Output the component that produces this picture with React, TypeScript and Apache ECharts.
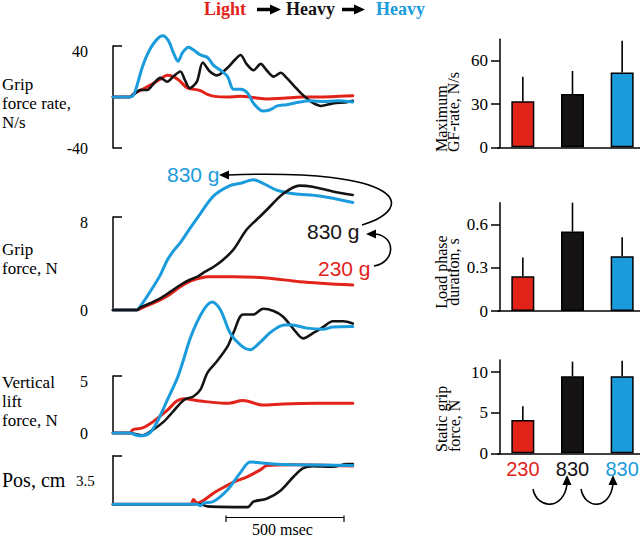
import React, { useEffect, useRef } from "react";
import * as echarts from "echarts";

const RED = "#E2231A";
const BLACK = "#151313";
const BLUE = "#1A9BDC";
const SERIF = "Liberation Serif";
const SANS = "Liberation Sans";

// ---- time-course traces: [time ms, value] ----
const gfRateLight: [number, number][] = [[0,0],[70,0],[90,3],[125,6],[160,9.5],[200,14],[230,17],[255,16],[280,13],[315,7],[345,6],[370,5],[400,2],[430,0.5],[480,0],[540,0.5],[600,-0.5],[650,-1.5],[720,-1],[800,0],[880,0],[960,0.5],[1015,1]];
const gfRateHeavy1: [number, number][] = [[0,0],[70,0],[95,3],[115,5.5],[145,5.5],[170,10],[200,15],[230,12],[255,16],[285,20],[305,13],[325,7],[355,12],[380,27],[410,20],[440,17],[485,23],[515,29],[540,33],[565,26],[595,21],[625,26],[650,21],[680,16],[710,19],[735,15],[765,9],[795,3],[820,-1],[850,-5],[880,-7],[930,-5],[990,-4],[1015,-3]];
const gfRateHeavy2: [number, number][] = [[0,0],[70,0],[85,1],[100,8],[125,24],[155,37],[185,45],[210,48],[235,44],[255,35],[275,28],[295,35],[320,39],[340,37],[370,33],[400,31],[425,25],[455,21],[485,16],[510,6],[540,6],[570,3],[595,-5],[635,-11],[665,-10],[695,-7],[735,-6],[790,-4],[835,-3],[890,-3.5],[950,-3],[1015,-4]];

const gripLight: [number, number][] = [[0,0],[100,0],[115,0.1],[160,0.5],[200,0.86],[245,1.4],[285,2.0],[330,2.5],[370,2.75],[400,2.87],[510,2.87],[650,2.75],[790,2.44],[1015,2.15]];
const gripHeavy1: [number, number][] = [[0,0],[100,0],[115,0.2],[160,0.6],[200,1],[245,1.6],[285,2.15],[325,2.6],[360,2.9],[390,3.3],[425,3.7],[465,4.3],[510,5.2],[565,6.9],[620,8.0],[650,8.6],[720,10],[790,10.7],[845,10.6],[930,10.2],[1015,9.9]];
const gripHeavy2: [number, number][] = [[0,0],[100,0],[115,0.3],[155,1.5],[200,3],[230,4.3],[260,5.2],[285,5.8],[325,7],[370,8.3],[425,9.8],[495,10.7],[540,10.9],[595,11.2],[635,10.9],[695,10.3],[765,10],[875,9.8],[1015,9.25]];

const liftLight: [number, number][] = [[0,0],[70,0],[85,0.3],[125,0.45],[170,1.0],[230,2.0],[270,2.8],[300,3.0],[370,2.8],[485,2.6],[550,2.85],[635,2.45],[720,2.55],[865,2.6],[1015,2.6]];
const liftHeavy1: [number, number][] = [[0,0],[70,0],[125,-0.2],[170,0.3],[215,1.0],[255,1.9],[300,2.9],[340,3.2],[370,3.8],[400,5.3],[440,6.3],[485,7.6],[510,8.8],[550,10.4],[595,10.4],[635,10.9],[680,10.7],[720,10.2],[765,9.1],[805,8.3],[850,8.8],[890,9.3],[930,9.8],[975,9.8],[1015,9.6]];
const liftHeavy2: [number, number][] = [[0,0],[70,0],[100,-0.2],[115,-0.25],[155,0],[185,0.9],[230,2.9],[270,4.7],[295,6.2],[325,8.2],[355,9.7],[390,11],[420,11.5],[455,10.8],[495,8.8],[540,7.7],[580,7.3],[620,7.9],[665,8.8],[710,9.4],[750,9.5],[820,9.2],[890,9.1],[930,9.3],[1015,9.35]];

const posLight: [number, number][] = [[0,0],[330,0],[340,0.35],[355,0.1],[380,0.25],[425,0.8],[455,1.1],[510,1.6],[570,2.0],[625,2.5],[652,2.8],[765,2.85],[1015,2.76]];
const posHeavy1: [number, number][] = [[0,0],[370,0],[400,-0.15],[570,-0.2],[595,0.2],[650,0.4],[710,1.0],[765,2.0],[805,2.6],[845,2.75],[930,2.7],[990,2.9],[1015,2.9]];
const posHeavy2: [number, number][] = [[0,0],[355,0],[370,-0.1],[385,0.1],[425,0.2],[485,1.05],[540,2.3],[580,3.05],[620,3.0],[680,2.9],[765,2.85],[1015,2.8]];

// ---- bar summaries ----
const barCategories = ["230", "830", "830"];
const barColors = [RED, BLACK, BLUE];
const maxGfRate = [32, 37, 52];
const maxGfRateErr = [49, 53, 74];
const loadPhase = [0.24, 0.55, 0.38];
const loadPhaseErr = [0.37, 0.75, 0.51];
const staticGrip = [4.1, 9.5, 9.5];
const staticGripErr = [5.8, 11.3, 11.4];

const T_MAX = 1020;

function lineSeries(data: [number, number][], color: string, gi: number, width = 3) {
  return {
    type: "line", xAxisIndex: gi, yAxisIndex: gi, data,
    showSymbol: false, symbol: "none", clip: false, smooth: 0.3, silent: true,
    lineStyle: { color, width, cap: "round", join: "round" },
    itemStyle: { color },
  };
}

function panelY(gi: number, min: number, max: number, labels: number[] | null) {
  const font = { fontFamily: SERIF, fontSize: 16, color: "#000" };
  return {
    type: "value", gridIndex: gi, min, max, position: "left", offset: 16,
    splitLine: { show: false },
    axisLine: { show: true, lineStyle: { color: "#000", width: 1.5 } },
    axisTick: { show: true, inside: true, length: 9, customValues: [min, max], lineStyle: { color: "#000", width: 1.5 } },
    axisLabel: labels
      ? {
          show: true, customValues: labels, margin: 9, ...font,
          formatter: (v: number) => (v === max ? `{t|${v}}` : `{n|${v}}`),
          rich: { t: { ...font, padding: [11, 0, 0, 0] }, n: { ...font } },
        }
      : { show: false },
  };
}

function barY(gi: number, max: number, ticks: number[]) {
  return {
    type: "value", gridIndex: gi, min: 0, max, position: "left", offset: -2,
    splitLine: { show: false },
    axisLine: { show: true, lineStyle: { color: "#000", width: 1.5 } },
    axisTick: { show: true, inside: false, length: 9, customValues: ticks, lineStyle: { color: "#000", width: 1.5 } },
    axisLabel: { show: true, customValues: ticks, margin: 12, fontFamily: SERIF, fontSize: 17, color: "#000" },
  };
}

function barX(gi: number, showLabels: boolean) {
  return {
    type: "category", gridIndex: gi, data: barCategories,
    axisLine: { show: true, lineStyle: { color: "#000", width: 1.5 } },
    axisTick: { show: false },
    axisLabel: showLabels
      ? {
          show: true, interval: 0, hideOverlap: false, margin: 6, fontFamily: SANS, fontSize: 20,
          formatter: (v: string, i: number) => `{c${i}|${v}}`,
          rich: {
            c0: { color: RED, fontFamily: SANS, fontSize: 20 },
            c1: { color: BLACK, fontFamily: SANS, fontSize: 20 },
            c2: { color: BLUE, fontFamily: SANS, fontSize: 20 },
          },
        }
      : { show: false },
  };
}

function barSeries(gi: number, vals: number[], errs: number[]) {
  return [
    {
      type: "bar", xAxisIndex: gi, yAxisIndex: gi, barWidth: 23, silent: true,
      data: vals.map((v, i) => ({ value: v, itemStyle: { color: barColors[i], borderColor: "#000", borderWidth: 1.5 } })),
    },
    {
      type: "custom", xAxisIndex: gi, yAxisIndex: gi, silent: true, z: 3,
      data: vals.map((v, i) => [i, v, errs[i]]),
      renderItem: (_p: any, api: any) => {
        const a = api.coord([api.value(0), api.value(1)]);
        const b = api.coord([api.value(0), api.value(2)]);
        return { type: "line", shape: { x1: a[0], y1: a[1], x2: b[0], y2: b[1] }, style: { stroke: "#000", lineWidth: 1.6 } };
      },
    },
  ];
}

function txt(text: string, x: number, y: number, opts: any = {}) {
  return {
    type: "text", x, y, rotation: opts.rotation || 0, silent: true,
    style: {
      text, fill: opts.color || "#000", fontFamily: opts.family || SERIF,
      fontSize: opts.size || 19, fontWeight: opts.weight || "normal",
      lineHeight: opts.lineHeight,
      align: opts.align || "left", verticalAlign: opts.valign || "middle",
      textAlign: opts.align || "left", textVerticalAlign: opts.valign || "middle",
    },
  };
}

function arrowHead(tipX: number, tipY: number, dir: "left" | "up" | "right", size = 5, len = 9) {
  let pts: number[][];
  if (dir === "left") pts = [[tipX, tipY], [tipX + len, tipY - size], [tipX + len, tipY + size]];
  else if (dir === "right") pts = [[tipX, tipY], [tipX - len, tipY - size], [tipX - len, tipY + size]];
  else pts = [[tipX, tipY], [tipX - size, tipY + len], [tipX + size, tipY + len]];
  return { type: "polygon", silent: true, shape: { points: pts }, style: { fill: "#000" } };
}

function curve(x1: number, y1: number, c1x: number, c1y: number, c2x: number, c2y: number, x2: number, y2: number) {
  return {
    type: "bezierCurve", silent: true,
    shape: { x1, y1, cpx1: c1x, cpy1: c1y, cpx2: c2x, cpy2: c2y, x2, y2 },
    style: { stroke: "#000", lineWidth: 1.6, fill: "none" },
  };
}

function line(x1: number, y1: number, x2: number, y2: number, w = 1.2) {
  return { type: "line", silent: true, shape: { x1, y1, x2, y2 }, style: { stroke: "#000", lineWidth: w } };
}

export default function App() {
  const ref = useRef<HTMLDivElement>(null);
  useEffect(() => {
    if (!ref.current) return;
    const chart = echarts.init(ref.current, null, { renderer: "svg" });
    const lg = (top: number, height: number) => ({ left: 113, top, width: 241, height, outerBoundsMode: "none", containLabel: false });
    const bg = (top: number, height: number) => ({ left: 498, top, width: 149, height, outerBoundsMode: "none", containLabel: false });
    const option: any = {
      animation: false,
      backgroundColor: "#fff",
      grid: [lg(46, 102), lg(217, 93), lg(376, 57), lg(455.7, 48.6), bg(39.3, 108), bg(202.7, 108.3), bg(360, 93.3)],
      xAxis: [
        ...[0, 1, 2, 3].map((gi) => ({ type: "value", gridIndex: gi, min: 0, max: T_MAX, show: false })),
        barX(4, false), barX(5, false), barX(6, true),
      ],
      yAxis: [
        panelY(0, -40, 40, [-40, 40]),
        panelY(1, 0, 8, [0, 8]),
        panelY(2, 0, 5, [0, 5]),
        panelY(3, 0, 3.5, null),
        barY(4, 75, [0, 30, 60]),
        barY(5, 0.75, [0, 0.3, 0.6]),
        barY(6, 11.5, [0, 5, 10]),
      ],
      series: [
        lineSeries(gfRateLight, RED, 0), lineSeries(gfRateHeavy1, BLACK, 0, 2.6), lineSeries(gfRateHeavy2, BLUE, 0),
        lineSeries(gripLight, RED, 1), lineSeries(gripHeavy2, BLUE, 1), lineSeries(gripHeavy1, BLACK, 1, 2.6),
        lineSeries(liftLight, RED, 2), lineSeries(liftHeavy1, BLACK, 2, 2.6), lineSeries(liftHeavy2, BLUE, 2),
        lineSeries(posLight, RED, 3), lineSeries(posHeavy1, BLACK, 3, 2.6), lineSeries(posHeavy2, BLUE, 3),
        ...barSeries(4, maxGfRate, maxGfRateErr),
        ...barSeries(5, loadPhase, loadPhaseErr),
        ...barSeries(6, staticGrip, staticGripErr),
      ],
      graphic: {
        elements: [
          // title
          txt("Light", 204, 8.5, { color: RED, size: 18, weight: "bold" }),
          line(257, 9.5, 272, 9.5, 3.5), arrowHead(281, 9.5, "right", 5, 11),
          txt("Heavy", 286, 8.5, { color: BLACK, size: 18, weight: "bold" }),
          line(342, 9.5, 356, 9.5, 3.5), arrowHead(365, 9.5, "right", 5, 11),
          txt("Heavy", 376, 8.5, { color: BLUE, size: 18, weight: "bold" }),
          // left panel labels
          txt("Grip\nforce rate,\nN/s", 2, 103, { size: 17, lineHeight: 19 }),
          txt("Grip\nforce, N", 2, 258.5, { size: 17, lineHeight: 19 }),
          txt("Vertical\nlift\nforce, N", 2, 401.5, { size: 17, lineHeight: 19 }),
          txt("Pos, cm", 2, 480, { size: 20 }), txt("3.5", 76, 481, { size: 15 }),
          // weight labels in grip panel
          txt("830 g", 167, 174, { color: BLUE, family: SANS, size: 21 }),
          txt("830 g", 307, 231, { color: BLACK, family: SANS, size: 21 }),
          txt("230 g", 318, 268, { color: RED, family: SANS, size: 21 }),
          curve(362, 225, 418, 208, 405, 168, 228, 175), arrowHead(219, 175, "left", 4.5, 10),
          curve(374, 266, 396, 262, 396, 236, 375, 234), arrowHead(366, 234, "left", 4.5, 10),
          // scale bar
          line(226, 517.5, 344, 517.5, 1.2), line(226, 515.5, 226, 522, 1.2), line(344, 515.5, 344, 522, 1.2),
          txt("500 msec", 282.5, 529, { size: 16, align: "center" }),
          // bar y-axis names
          txt("Maximum", 441, 152, { size: 16, rotation: Math.PI / 2 }),
          txt("GF-rate, N/s", 453.5, 152, { size: 16, rotation: Math.PI / 2 }),
          txt("Load phase", 441, 272, { size: 16, rotation: Math.PI / 2, align: "center" }),
          txt("duration, s", 453.5, 272, { size: 16, rotation: Math.PI / 2, align: "center" }),
          txt("Static grip", 441, 452, { size: 16, rotation: Math.PI / 2 }),
          txt("force, N", 454, 452, { size: 16, rotation: Math.PI / 2 }),
          // arrows under bars
          curve(533, 489, 537, 510, 564, 510, 567, 484), arrowHead(567, 475, "up", 4.5, 10),
          curve(581, 489, 585, 510, 610, 510, 613, 484), arrowHead(613, 475, "up", 4.5, 10),
        ],
      },
    };
    chart.setOption(option);
    return () => chart.dispose();
  }, []);
  return <div ref={ref} style={{ position: "absolute", left: 0, top: 0, width: 640, height: 538, background: "#fff" }} />;
}
